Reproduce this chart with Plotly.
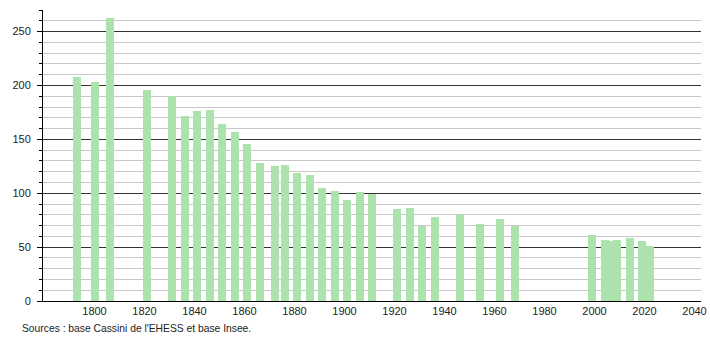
import plotly.graph_objects as go

years = [1793, 1800, 1806, 1821, 1831, 1836, 1841, 1846, 1851, 1856,
         1861, 1866, 1872, 1876, 1881, 1886, 1891, 1896, 1901, 1906,
         1911, 1921, 1926, 1931, 1936, 1946, 1954, 1962, 1968,
         1999, 2004, 2006, 2009, 2014, 2019, 2022]
population = [208, 203, 263, 196, 190, 172, 176, 177, 164, 157,
              146, 128, 125, 126, 119, 117, 105, 102, 94, 101,
              99, 85, 86, 70, 78, 80, 71, 76, 70,
              61, 57, 56, 57, 58, 56, 51]
x_ticks = [1800, 1820, 1840, 1860, 1880, 1900, 1920, 1940, 1960, 1980, 2000, 2020, 2040]
source_text = "Sources : base Cassini de l'EHESS et base Insee."

bar_color = "rgb(172,226,172)"

fig = go.Figure()
fig.add_trace(go.Bar(
    x=years, y=population, width=[3.2] * len(years),
    marker=dict(color=bar_color, line=dict(width=0)),
    hoverinfo="x+y",
))

font_family = "Liberation Sans, Arial, sans-serif"

fig.update_layout(
    width=710, height=340,
    margin=dict(l=43, r=9, t=10, b=39),
    paper_bgcolor="white", plot_bgcolor="white",
    showlegend=False,
    font=dict(family=font_family, size=11, color="#222"),
    xaxis=dict(
        range=[1779.4, 2042.6], automargin=False,
        tickmode="array", tickvals=x_ticks, ticktext=[str(t) for t in x_ticks],
        showgrid=False, zeroline=False,
        showline=True, linecolor="black", linewidth=1,
        ticks="", tickfont=dict(size=11, color="#222"),
    ),
    yaxis=dict(
        range=[0, 270], automargin=False,
        tickmode="linear", tick0=0, dtick=50,
        showgrid=True, gridcolor="#333", gridwidth=1,
        zeroline=False,
        showline=True, linecolor="black", linewidth=1,
        ticks="outside", ticklen=5, tickcolor="black", tickwidth=1,
        ticklabelstandoff=4,
        tickfont=dict(size=11, color="#222"),
        minor=dict(dtick=10, tick0=0, ticks="outside", ticklen=3,
                   tickcolor="black", showgrid=True, gridcolor="#c8c8c8", gridwidth=1),
    ),
    bargap=0,
)

fig.add_annotation(
    text=source_text, xref="paper", yref="paper",
    x=-23 / 658, y=0.0, xanchor="left", yanchor="top",
    yshift=-20, showarrow=False,
    font=dict(family=font_family, size=10.3, color="#222"),
)

fig.write_html("out.html")
